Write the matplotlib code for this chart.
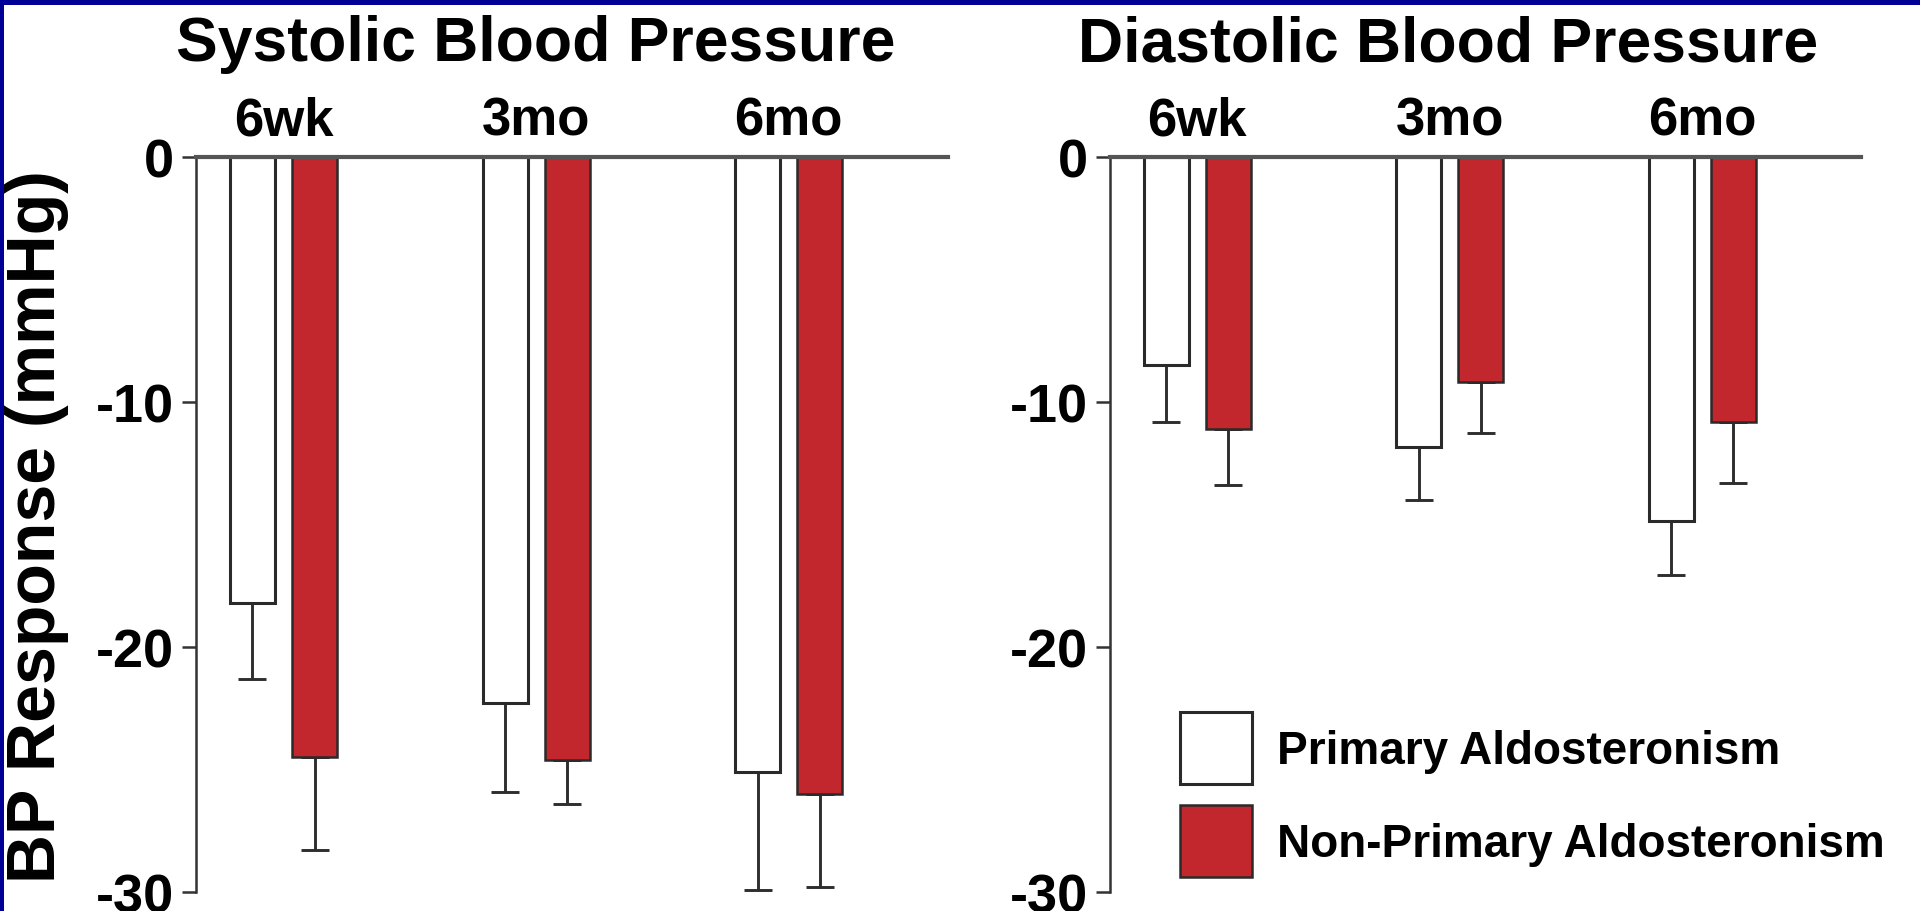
import matplotlib
matplotlib.use("Agg")
import matplotlib.pyplot as plt
from matplotlib.patches import Rectangle
import numpy as np

plt.rcParams["font.family"] = ["Liberation Sans", "DejaVu Sans"]
plt.rcParams["font.weight"] = "bold"

timepoints = ["6wk", "3mo", "6mo"]
series_names = ["Primary Aldosteronism", "Non-Primary Aldosteronism"]

# mean change from baseline (mmHg) and SE, systolic
sys_pa = [-18.2, -22.3, -25.1]
sys_pa_err = [3.1, 3.6, 4.8]
sys_npa = [-24.5, -24.6, -26.0]
sys_npa_err = [3.8, 1.8, 3.8]

# diastolic
dia_pa = [-8.5, -11.85, -14.85]
dia_pa_err = [2.3, 2.15, 2.2]
dia_npa = [-11.1, -9.2, -10.8]
dia_npa_err = [2.3, 2.05, 2.5]

y_ticks = [0, -10, -20, -30]

RED = "#C1272D"
EDGE = "#2a2a2a"
BORDER = "#000096"

W, H = 1920, 912
fig = plt.figure(figsize=(W / 100, H / 100), dpi=100)
fig.patch.set_facecolor("white")

# axes boxes in pixels: zero line at y=158, -30 at y=893
ax_top, ax_bot = 158, 893
xlim = (-0.345, 2.63)
unit = 252.6
ax_w = (xlim[1] - xlim[0]) * unit


def add_panel(x_left, pa, pa_err, npa, npa_err, title, title_x):
    ax = fig.add_axes([x_left / W, 1 - ax_bot / H, ax_w / W, (ax_bot - ax_top) / H])
    x = np.arange(len(timepoints))
    off, bw = 0.123, 0.178
    bars_pa = ax.bar(x - off, pa, bw, color="white", edgecolor=EDGE, linewidth=2.2, zorder=2)
    bars_npa = ax.bar(x + off, npa, bw, color=RED, edgecolor=EDGE, linewidth=1.8, zorder=2)
    for xs, vals, errs in ((x - off, pa, pa_err), (x + off, npa, npa_err)):
        ax.errorbar(xs, vals, yerr=[errs, [0] * len(errs)], fmt="none",
                    ecolor="#2e2e2e", elinewidth=2.1, capsize=10, capthick=2.1, zorder=1)

    ax.set_xlim(*xlim)
    ax.set_ylim(-30, 0)
    ax.set_yticks(y_ticks)
    ax.set_yticklabels([str(t) for t in y_ticks])
    ax.set_xticks([])
    ax.tick_params(axis="y", length=10, width=1.8, color="#333333", pad=6,
                   labelsize=39)
    for lab in ax.get_yticklabels():
        lab.set_fontweight("bold")

    for side in ("right", "bottom"):
        ax.spines[side].set_visible(False)
    ax.spines["top"].set_color("#555555")
    ax.spines["top"].set_linewidth(3)
    ax.spines["top"].set_zorder(3)
    ax.spines["left"].set_color("#333333")
    ax.spines["left"].set_linewidth(1.8)

    for xi, lab in zip(x, timepoints):
        ax.annotate(lab, xy=(xi, 0), xytext=(0, 16.5), textcoords="offset points",
                    ha="center", va="baseline", fontsize=38, fontweight="bold",
                    annotation_clip=False)

    fig.text(title_x / W, 1 - 61 / H, title, ha="center", va="baseline",
             fontsize=45, fontweight="bold")
    return ax, bars_pa, bars_npa


ax1, _, _ = add_panel(196.4, sys_pa, sys_pa_err, sys_npa, sys_npa_err,
                      "Systolic Blood Pressure", 536)
ax2, h_pa, h_npa = add_panel(1110, dia_pa, dia_pa_err, dia_npa, dia_npa_err,
                             "Diastolic Blood Pressure", 1448)

fig.text(55 / W, 1 - 527 / H, "BP Response (mmHg)", rotation=90,
         rotation_mode="anchor", ha="center", va="baseline",
         fontsize=49, fontweight="bold")

# legend squares 72 px tall; matplotlib trims a descent off the handle height
fs_leg = 33
em = fs_leg * 100 / 72
hh = (72 / em - 0.245) / 0.65
leg = fig.legend([h_pa, h_npa], series_names, loc="upper left",
                 bbox_to_anchor=(1180 / W, 1 - 713 / H),
                 bbox_transform=fig.transFigure,
                 frameon=False, borderpad=0, borderaxespad=0,
                 handlelength=72 / em, handleheight=hh,
                 handletextpad=25 / em, labelspacing=21 / em,
                 prop={"size": fs_leg, "weight": "bold"})

# dark blue frame along the top and left edges
fig.add_artist(Rectangle((0, 1 - 6 / H), 1, 6 / H, transform=fig.transFigure,
                         facecolor=BORDER, edgecolor="none", zorder=10))
fig.add_artist(Rectangle((0, 0), 4 / W, 1, transform=fig.transFigure,
                         facecolor=BORDER, edgecolor="none", zorder=10))

fig.savefig("out.png", dpi=100, facecolor="white")
